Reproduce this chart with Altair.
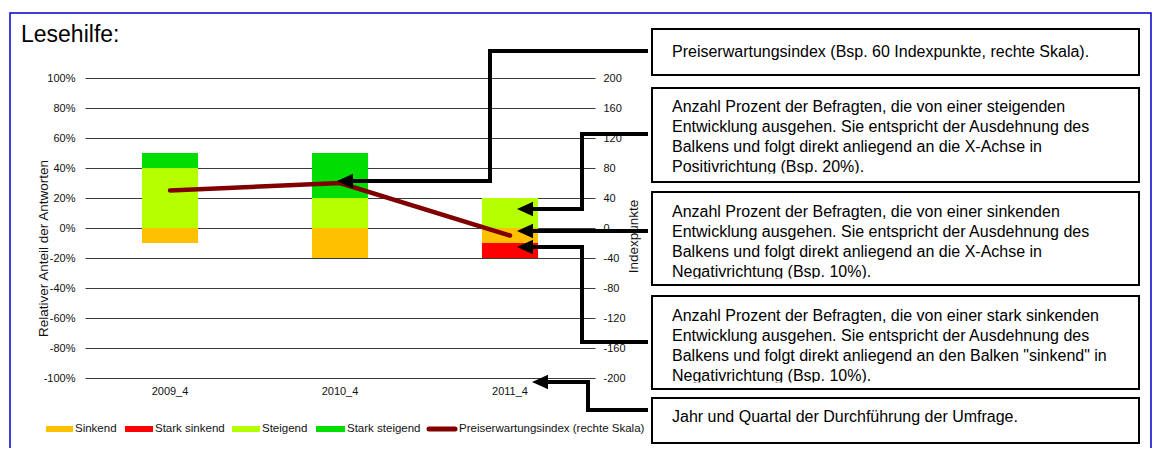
import altair as alt
import pandas as pd

# ---------------- data ----------------
quarters = ["2009_4", "2010_4", "2011_4"]
series_names = ["Sinkend", "Stark sinkend", "Steigend", "Stark steigend"]
sinkend = [-0.10, -0.20, -0.10]
stark_sinkend = [0.00, 0.00, -0.10]
steigend = [0.40, 0.20, 0.20]
stark_steigend = [0.10, 0.30, 0.00]
preisindex = [50, 60, -10]
line_name = "Preiserwartungsindex (rechte Skala)"
pct_ticks = [-1.0, -0.8, -0.6, -0.4, -0.2, 0.0, 0.2, 0.4, 0.6, 0.8, 1.0]
index_ticks = [-200, -160, -120, -80, -40, 0, 40, 80, 120, 160, 200]
left_title = "Relativer Anteil der Antworten"
right_title = "Indexpunkte"
chart_title = "Lesehilfe:"
box_texts = [
    "Preiserwartungsindex (Bsp. 60 Indexpunkte, rechte Skala).",
    "Anzahl Prozent der Befragten, die von einer steigenden\n"
    "Entwicklung ausgehen. Sie entspricht der Ausdehnung des\n"
    "Balkens und folgt direkt anliegend an die X-Achse in\n"
    "Positivrichtung (Bsp. 20%).",
    "Anzahl Prozent der Befragten, die von einer sinkenden\n"
    "Entwicklung ausgehen. Sie entspricht der Ausdehnung des\n"
    "Balkens und folgt direkt anliegend an die X-Achse in\n"
    "Negativrichtung (Bsp. 10%).",
    "Anzahl Prozent der Befragten, die von einer stark sinkenden\n"
    "Entwicklung ausgehen. Sie entspricht der Ausdehnung des\n"
    "Balkens und folgt direkt anliegend an den Balken \"sinkend\" in\n"
    "Negativrichtung (Bsp. 10%).",
    "Jahr und Quartal der Durchführung der Umfrage.",
]

# ---------------- styles / layout ----------------
FONT = "Liberation Sans"
series_colors = ["#FFC000", "#FF0000", "#B4FF00", "#00DD00"]
line_color = "#800000"
GRID = "#3a3a3a"
LABEL = "#111111"

OX, OY = 85, 78          # page position of plot origin
W, H = 510, 300          # plot area
PAD = {"left": OX - 8, "top": OY - 8, "right": 1144 - (OX - 8) - W, "bottom": 440 - (OY - 8) - H}


def px(v):
    return v - OX


def py(v):
    return v - OY


# connectors (page coords): (x1, y1, x2, y2)
segments = [
    (352, 181, 490, 181), (490, 51, 490, 181), (490, 51, 646, 51),
    (532, 209, 582, 209), (582, 134, 582, 209), (582, 134, 646, 134),
    (532, 231, 646, 231),
    (532, 247, 582, 247), (582, 247, 582, 342), (582, 342, 646, 342),
    (547, 382, 588, 382), (588, 382, 588, 410), (588, 410, 646, 410),
]
arrow_tips = [(337, 181), (517, 209), (517, 231), (517, 247), (532, 382)]
boxes = [(652, 29, 1139, 75), (652, 88, 1139, 182), (652, 192, 1139, 285),
         (652, 296, 1139, 389), (652, 398, 1139, 443)]
box_baselines = [57, 112, 217, 321, 422]
LINE_H = 20
TEXT_X = 672

legend_swatches = [(46, 73), (125, 153), (232, 260), (316, 345)]
legend_text_x = [75, 155, 262, 347, 459]
legend_line = (429, 455)
LEG_Y = 429

# ---------------- data frames ----------------
rows = []
vals = [sinkend, stark_sinkend, steigend, stark_steigend]
for si, (name, arr) in enumerate(zip(series_names, vals)):
    for q, v in zip(quarters, arr):
        if v != 0:
            rows.append({"quarter": q, "series": name, "value": v, "ord": si})
bar_df = pd.DataFrame(rows)
line_df = pd.DataFrame({"quarter": quarters, "index": preisindex})

x_scale = alt.Scale(domain=quarters, paddingInner=0.67, paddingOuter=0.335)

bars = alt.Chart(bar_df).mark_bar().encode(
    x=alt.X("quarter:N", sort=quarters, scale=x_scale,
            axis=alt.Axis(title=None, labelAngle=0, labelFontSize=11, labelFont=FONT,
                          labelColor=LABEL, labelPadding=7, domain=False, ticks=False,
                          tickSize=0)),
    y=alt.Y("value:Q", stack="zero",
            scale=alt.Scale(domain=[-1, 1], nice=False, zero=False),
            axis=alt.Axis(values=pct_ticks, grid=True, gridColor=GRID, gridWidth=1,
                          domain=False, ticks=False, tickSize=0, labelPadding=10,
                          labelFontSize=11, labelFont=FONT, labelColor=LABEL,
                          labelExpr="(datum.value < 0 ? '-' : '') + format(abs(datum.value) * 100, '.0f') + '%'",
                          title=left_title, titleFont=FONT, titleFontSize=13.5,
                          titleFontWeight="normal", titleColor=LABEL, titleAngle=270,
                          titleX=-42, titleY=170, titleBaseline="middle", titleAlign="center")),
    color=alt.Color("series:N", scale=alt.Scale(domain=series_names, range=series_colors), legend=None),
    order=alt.Order("ord:Q"),
)

line = alt.Chart(line_df).mark_line(color=line_color, strokeWidth=4.5, strokeCap="round").encode(
    x=alt.X("quarter:N", sort=quarters, bandPosition=0.5),
    y=alt.Y("index:Q", scale=alt.Scale(domain=[-200, 200], nice=False, zero=False),
            axis=alt.Axis(orient="right", values=index_ticks, grid=False, domain=False,
                          ticks=False, tickSize=0, labelPadding=8, labelFontSize=11,
                          labelFont=FONT, labelColor=LABEL,
                          labelExpr="(datum.value < 0 ? '-' : '') + format(abs(datum.value), '.0f')",
                          title=right_title, titleFont=FONT, titleFontSize=13.5,
                          titleFontWeight="normal", titleColor=LABEL, titleAngle=270,
                          titleX=38, titleY=158, titleBaseline="middle", titleAlign="center")),
)

# ---------------- annotations ----------------
seg_df = pd.DataFrame([{"x": px(a), "y": py(b), "x2": px(c), "y2": py(d)} for a, b, c, d in segments])
tip_df = pd.DataFrame([{"x": px(a) + 8, "y": py(b)} for a, b in arrow_tips])
box_df = pd.DataFrame([{"x": px(a), "y": py(b), "x2": px(c), "y2": py(d)} for a, b, c, d in boxes])
text_df = pd.DataFrame([{"x": px(TEXT_X), "y": py(bl), "text": t} for bl, t in zip(box_baselines, box_texts)])
clip_rows = []
for (a, b, c, d), bl, t in zip(boxes, box_baselines, box_texts):
    n = t.count("\n")
    if n >= 3:
        yb = bl + n * LINE_H + 1.5
        clip_rows.append({"x": px(a + 1.5), "x2": px(c - 1.5), "y": py(yb), "y2": py(d - 1.2)})
clip_df = pd.DataFrame(clip_rows)

XQ = lambda f: alt.X(f"{f}:Q", scale=None)
YQ = lambda f: alt.Y(f"{f}:Q", scale=None)

connectors = alt.Chart(seg_df).mark_rule(color="black", strokeWidth=4, strokeCap="square").encode(
    x=XQ("x"), x2="x2:Q", y=YQ("y"), y2="y2:Q")
heads = alt.Chart(tip_df).mark_point(shape="M-1,0L1,-0.9L1,0.9Z", size=256, filled=True,
                                     color="black", opacity=1, strokeWidth=0).encode(x=XQ("x"), y=YQ("y"))
box_marks = alt.Chart(box_df).mark_rect(fill="white", stroke="black", strokeWidth=2).encode(
    x=XQ("x"), x2="x2:Q", y=YQ("y"), y2="y2:Q")
box_text = alt.Chart(text_df).mark_text(align="left", baseline="alphabetic", font=FONT, fontSize=16,
                                        lineBreak="\n", lineHeight=LINE_H, color="black").encode(
    x=XQ("x"), y=YQ("y"), text="text:N")
clips = alt.Chart(clip_df).mark_rect(color="white").encode(x=XQ("x"), x2="x2:Q", y=YQ("y"), y2="y2:Q")

# legend
sw_df = pd.DataFrame([{"x": px(a), "x2": px(b), "y": py(LEG_Y - 3), "y2": py(LEG_Y + 3), "c": col}
                      for (a, b), col in zip(legend_swatches, series_colors)])
leg_sw = alt.Chart(sw_df).mark_rect().encode(x=XQ("x"), x2="x2:Q", y=YQ("y"), y2="y2:Q",
                                             color=alt.Color("c:N", scale=None))
leg_line_df = pd.DataFrame([{"x": px(legend_line[0]), "x2": px(legend_line[1]), "y": py(LEG_Y)}])
leg_ln = alt.Chart(leg_line_df).mark_rule(color=line_color, strokeWidth=5, strokeCap="round").encode(
    x=XQ("x"), x2="x2:Q", y=YQ("y"))
leg_txt_df = pd.DataFrame([{"x": px(x0), "y": py(LEG_Y), "t": t}
                           for x0, t in zip(legend_text_x, series_names + [line_name])])
leg_txt = alt.Chart(leg_txt_df).mark_text(align="left", baseline="middle", font=FONT, fontSize=11.5,
                                          color=LABEL).encode(x=XQ("x"), y=YQ("y"), text="t:N")

title_df = pd.DataFrame([{"x": px(21), "y": py(42), "t": chart_title}])
title = alt.Chart(title_df).mark_text(align="left", baseline="alphabetic", font=FONT, fontSize=23,
                                      color="black").encode(x=XQ("x"), y=YQ("y"), text="t:N")

frame_df = pd.DataFrame([{"x": px(10), "y": py(13), "x2": px(1151), "y2": py(470)}])
frame = alt.Chart(frame_df).mark_rect(fillOpacity=0, stroke="#0000cc", strokeWidth=1.5).encode(
    x=XQ("x"), x2="x2:Q", y=YQ("y"), y2="y2:Q")

chart = alt.layer(
    bars, line, connectors, heads, box_marks, box_text, clips, leg_sw, leg_ln, leg_txt, title, frame
).resolve_scale(y="independent").properties(
    width=W, height=H, padding=PAD, autosize=alt.AutoSizeParams(type="none"),
    background="white",
).configure_view(stroke=None)

chart.save("out.html", embed_options={"renderer": "svg", "actions": False})
